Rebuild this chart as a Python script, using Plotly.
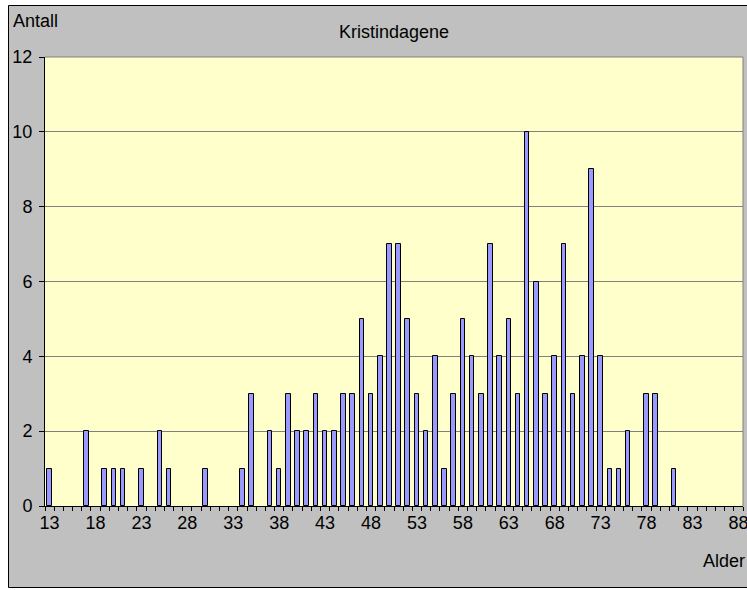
import plotly.graph_objects as go

# Ages (categories) and number of people per age
ages = list(range(13, 89))
counts = [
    1, 0, 0, 0, 2, 0, 1, 1, 1, 0,   # 13-22
    1, 0, 2, 1, 0, 0, 0, 1, 0, 0,   # 23-32
    0, 1, 3, 0, 2, 1, 3, 2, 2, 3,   # 33-42
    2, 2, 3, 3, 5, 3, 4, 7, 7, 5,   # 43-52
    3, 2, 4, 1, 3, 5, 4, 3, 7, 4,   # 53-62
    5, 3, 10, 6, 3, 4, 7, 3, 4, 9,  # 63-72
    4, 1, 1, 2, 0, 3, 3, 0, 1, 0,   # 73-82
    0, 0, 0, 0, 0, 0,               # 83-88
]
x_tick_vals = [13, 18, 23, 28, 33, 38, 43, 48, 53, 58, 63, 68, 73, 78, 83, 88]
x_tick_text = ["13", "18", "23", "28", "33", "38", "43", "48", "53", "58", "63", "68", "73", "78", "83", "88"]
y_tick_vals = [0, 2, 4, 6, 8, 10, 12]

title_text = "Kristindagene"
y_title = "Antall"
x_title = "Alder"

FONT = "Liberation Sans, Arial, sans-serif"
FS = 18
W, H = 747, 590
ML, MR, MT, MB = 45, 4, 57, 84
PW, PH = W - ML - MR, H - MT - MB

def px_to_paper_x(px):
    return (px - ML) / PW

def px_to_paper_y(py):
    return (H - MB - py) / PH

# zero-count ages get no bar drawn (Excel shows nothing there)
bar_y = [c if c > 0 else None for c in counts]

fig = go.Figure()
fig.add_trace(go.Bar(
    x=ages, y=bar_y, width=0.5,
    marker=dict(color="#9999FF", line=dict(color="black", width=1)),
    hoverinfo="x+y",
))

fig.update_layout(
    width=W, height=H,
    margin=dict(l=ML, r=MR, t=MT, b=MB, autoexpand=False),
    paper_bgcolor="white",
    plot_bgcolor="#FFFFCC",
    showlegend=False,
    font=dict(family=FONT, size=FS, color="black"),
    bargap=0,
)

fig.update_xaxes(
    range=[12.5, 88.5], automargin=False,
    tickmode="array", tickvals=x_tick_vals, ticktext=x_tick_text,
    ticks="", showgrid=False, zeroline=False,
    showline=True, linecolor="black", linewidth=1,
    tickfont=dict(size=FS, family=FONT, color="black"),
    ticklabeloverflow="allow",
    minor=dict(tickmode="linear", tick0=12.5, dtick=1, ticks="outside",
               ticklen=4, tickcolor="black", showgrid=False),
    fixedrange=True,
)
fig.update_yaxes(
    range=[0, 12], automargin=False,
    tickmode="array", tickvals=y_tick_vals,
    ticks="outside", ticklen=5, tickcolor="black",
    showgrid=True, gridcolor="#808080", gridwidth=1,
    zeroline=False,
    showline=True, linecolor="black", linewidth=1,
    tickfont=dict(size=FS, family=FONT, color="black"),
    ticklabelstandoff=3,
    fixedrange=True,
)

# Outer grey chart area with black border
fig.add_shape(type="rect", xref="paper", yref="paper",
              x0=px_to_paper_x(8.5), x1=px_to_paper_x(770),
              y0=px_to_paper_y(587.5), y1=px_to_paper_y(5.5),
              fillcolor="#C0C0C0", line=dict(color="black", width=1), layer="below")
# Plot area fill
fig.add_shape(type="rect", xref="paper", yref="paper", x0=0, x1=1, y0=0, y1=1,
              fillcolor="#FFFFCC", line=dict(width=0), layer="below")
# Plot-area top and right border (grey)
fig.add_shape(type="line", xref="paper", yref="paper", x0=0, x1=1, y0=1, y1=1,
              line=dict(color="#808080", width=1), layer="above")
fig.add_shape(type="line", xref="paper", yref="paper", x0=1, x1=1, y0=0, y1=1,
              line=dict(color="#808080", width=1), layer="above")

fig.add_annotation(text=title_text, xref="paper", yref="paper",
                   x=0.5, y=px_to_paper_y(32), xanchor="center", yanchor="middle",
                   showarrow=False, font=dict(size=FS, family=FONT, color="black"))
fig.add_annotation(text=y_title, xref="paper", yref="paper",
                   x=px_to_paper_x(11), y=px_to_paper_y(21), xanchor="left", yanchor="middle",
                   showarrow=False, font=dict(size=FS, family=FONT, color="black"))
fig.add_annotation(text=x_title, xref="paper", yref="paper",
                   x=px_to_paper_x(701), y=px_to_paper_y(561), xanchor="left", yanchor="middle",
                   showarrow=False, font=dict(size=FS, family=FONT, color="black"))

# remove the browser's default page margin so the figure sits at the window's top-left
fig.write_html("out.html",
               config={"displayModeBar": False},
               post_script="document.body.style.margin='0';document.body.style.overflow='hidden';")
